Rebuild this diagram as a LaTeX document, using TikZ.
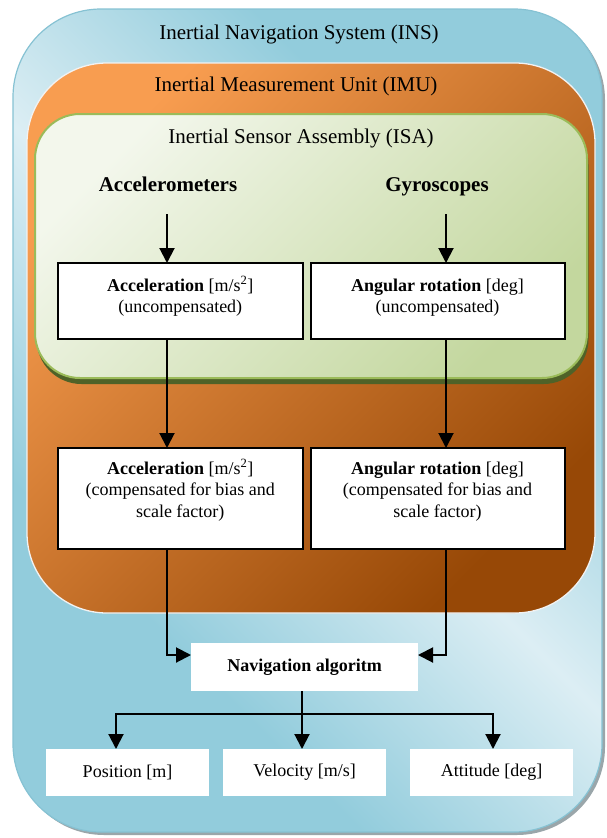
\documentclass[tikz,border=0pt]{standalone}
\usepackage{fontspec}
\setmainfont{Liberation Serif}
\usetikzlibrary{arrows.meta,calc}
\definecolor{inslight}{HTML}{DCEEF4}
\definecolor{insdark}{HTML}{92CCDC}
\definecolor{insedge}{HTML}{86C2D3}
\definecolor{insshadow}{HTML}{9AA6AA}
\definecolor{imulight}{HTML}{F89D50}
\definecolor{imudark}{HTML}{974806}
\definecolor{imuedge}{HTML}{F2F2F2}
\definecolor{isalight}{HTML}{F3F7EC}
\definecolor{isadark}{HTML}{C3D79E}
\definecolor{isaedge}{HTML}{9BBB59}
\definecolor{isashadow}{HTML}{4F6228}
\pgfdeclarehorizontalshading{insshade}{100bp}{color(0bp)=(insdark); color(32bp)=(insdark); color(50bp)=(inslight); color(68bp)=(insdark); color(100bp)=(insdark)}
\newcommand\boxtxt[4]{\parbox[t][#2][t]{#1}{\centering\rule{0pt}{#3}#4}}
\tikzset{
  titletext/.style={font=\fontsize{21}{25}\selectfont, anchor=base, inner sep=0pt},
  headtext/.style={font=\fontsize{21}{25}\selectfont\bfseries, anchor=base, inner sep=0pt},
  sensbox/.style={draw=black, line width=2pt, fill=white, inner sep=0pt, outer sep=0pt,
    font=\fontsize{18}{21.5}\selectfont},
  outbox/.style={fill=white, inner sep=0pt, outer sep=0pt, minimum width=163pt, minimum height=47pt,
    font=\fontsize{18}{21.5}\selectfont},
  navbox/.style={fill=white, inner sep=0pt, outer sep=0pt, minimum width=227pt, minimum height=48pt,
    font=\fontsize{18}{21.5}\selectfont\bfseries},
  arr/.style={line width=2pt, -{Triangle[width=15pt,length=15pt]}},
  plainline/.style={line width=2pt}
}
\begin{document}
\begin{tikzpicture}[x=1pt,y=-1pt]
\useasboundingbox (0,0) rectangle (607,838);
% INS container
\fill[insshadow, rounded corners=88pt] (16,12) rectangle (605,835);
\shadedraw[shading=insshade, shading angle=45, draw=insedge, line width=1.2pt, rounded corners=88pt] (13,9) rectangle (602,832);
% IMU container
\shadedraw[top color=imulight, bottom color=imudark, shading angle=45, draw=imuedge, line width=1.3pt, rounded corners=80pt] (27,63) rectangle (595,613);
% ISA container
\fill[isashadow, rounded corners=45pt] (36.5,119.5) rectangle (588.5,384);
\shadedraw[top color=isalight, bottom color=isadark, shading angle=45, draw=isaedge, line width=2pt, rounded corners=45pt] (35,114) rectangle (587,378);
% titles
\node[titletext] (tins) at (299,39) {Inertial Navigation System (INS)};
\node[titletext] (timu) at (296,91) {Inertial Measurement Unit (IMU)};
\node[titletext] (tisa) at (301,143) {Inertial Sensor Assembly (ISA)};
\node[headtext] (acc) at (168,191) {Accelerometers};
\node[headtext] (gyr) at (437,191) {Gyroscopes};
% sensor boxes
\node[sensbox] (b1) at (180.25,301) {\boxtxt{244.5pt}{76pt}{28pt}{\textbf{Acceleration} [m/s\textsuperscript{2}]\\(uncompensated)}};
\node[sensbox] (b2) at (437.5,301) {\boxtxt{254pt}{76pt}{28pt}{\textbf{Angular rotation} [deg]\\(uncompensated)}};
\node[sensbox] (b3) at (180.25,498.5) {\boxtxt{244.5pt}{101pt}{26pt}{\textbf{Acceleration} [m/s\textsuperscript{2}]\\(compensated for bias and\\scale factor)}};
\node[sensbox] (b4) at (437.5,498.5) {\boxtxt{254pt}{101pt}{26pt}{\textbf{Angular rotation} [deg]\\(compensated for bias and\\scale factor)}};
% navigation and outputs
\node[navbox] (nav) at (304.5,667) {Navigation algoritm};
\node[outbox] (p) at (127.5,772.5) {Position [m]};
\node[outbox] (v) at (304.5,772.5) {Velocity [m/s]};
\node[outbox] (a) at (491.5,772.5) {Attitude [deg]};
% connectors
\coordinate (s1) at (167,214);
\coordinate (s2) at (446,214);
\draw[arr] (s1) -- (s1 |- b1.north);
\draw[arr] (s2) -- (s2 |- b2.north);
\draw[arr] (s1 |- b1.south) -- (s1 |- b3.north);
\draw[arr] (s2 |- b2.south) -- (s2 |- b4.north);
\draw[arr] (s1 |- b3.south) |- ([yshift=12pt]nav.west);
\draw[arr] (s2 |- b4.south) |- ([yshift=12pt]nav.east);
\coordinate (split) at (302,714);
\draw[plainline] (split |- nav.south) -- (split);
\draw[arr] (split) -| ([xshift=-11.5pt]p.north);
\draw[arr] (split) -- (split |- v.north);
\draw[arr] (split) -| ([xshift=1.5pt]a.north);
\end{tikzpicture}
\end{document}
